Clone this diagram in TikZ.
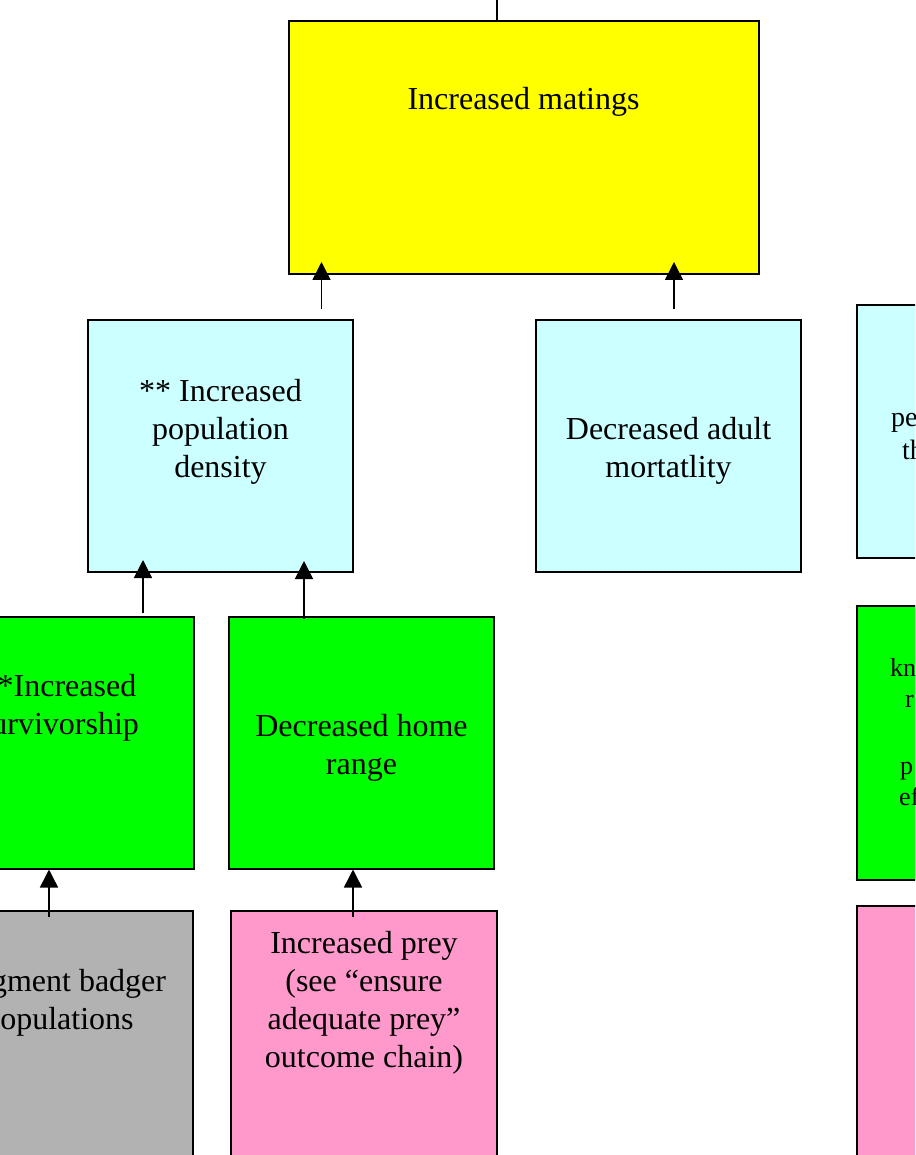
\documentclass[tikz,border=0pt]{standalone}
\usepackage{fontspec}
\setmainfont{Liberation Serif}
\usetikzlibrary{arrows.meta,calc}
\definecolor{matyellow}{HTML}{FFFF00}
\definecolor{cyanbox}{HTML}{CCFFFF}
\definecolor{greenbox}{HTML}{00FF00}
\definecolor{pinkbox}{HTML}{FF99CC}
\definecolor{graybox}{HTML}{B2B2B2}
\begin{document}
\begin{tikzpicture}[x=1pt,y=-1pt,
  box/.style={draw=black, line width=1.8pt, minimum width=265pt, minimum height=252pt,
    inner sep=0pt, outer sep=0pt, anchor=north west},
  txt/.style={font=\fontsize{32}{38}\selectfont, align=center, inner sep=0pt},
  smalltxt/.style={font=\fontsize{26}{31}\selectfont, inner sep=0pt, anchor=base west},
  midtxt/.style={font=\fontsize{28}{33}\selectfont, inner sep=0pt, anchor=base west},
  arr/.style={line width=1.5pt, -{Triangle[width=18pt,length=18pt]}},
  plainline/.style={line width=1.5pt}]
\useasboundingbox (0,0) rectangle (915,1155);
\clip (0,0) rectangle (915,1155);

% boxes
\node[box, fill=matyellow, minimum width=470pt, minimum height=253pt] (mat) at (289,21) {};
\node[box, fill=cyanbox] (dens) at (88,320) {};
\node[box, fill=cyanbox] (mort) at (536,320) {};
\node[box, fill=cyanbox, minimum height=253pt] (cyanR) at (857,305) {};
\node[box, fill=greenbox] (surv) at (-71,617) {};
\node[box, fill=greenbox] (home) at (229,617) {};
\node[box, fill=greenbox, minimum height=274pt] (greenR) at (857,606) {};
\node[box, fill=graybox, minimum height=300pt] (badg) at (-72,911) {};
\node[box, fill=pinkbox, minimum width=266pt, minimum height=300pt] (prey) at (231,911) {};
\node[box, fill=pinkbox, minimum height=300pt] (pinkR) at (857,906) {};

% texts
\node[txt, anchor=base] (matT) at (523.5,110) {Increased matings};
\node[txt] (densT) at (220.5,432) {** Increased\\population\\density};
\node[txt] (mortT) at (668.5,450.5) {Decreased adult\\mortatlity};
\node[txt] (survT) at (59,708) {**Increased\\survivorship};
\node[txt] (homeT) at (361.5,747.5) {Decreased home\\range};
\node[txt] (badgT) at (59,1003) {Augment badger\\populations};
\node[txt] (preyT) at (364,1003) {Increased prey\\(see “ensure\\adequate prey”\\outcome chain)};

\node[midtxt] (cyanRa) at (891,426) {pe};
\node[midtxt] (cyanRb) at (902,459) {th};
\node[smalltxt] (greenRa) at (890,676) {kn};
\node[smalltxt] (greenRb) at (905,707) {r};
\node[smalltxt] (greenRc) at (900,774) {p};
\node[smalltxt] (greenRd) at (899,805) {ef};

% connectors
\coordinate (topend) at ($(mat.north)+(-27,-30)$);
\draw[plainline] (topend) -- ($(mat.north)+(-27,0)$);
\draw[arr] ($(dens.north)+(101,-11)$) -- ($(mat.south)+(-202.5,-12)$);
\draw[arr] ($(mort.north)+(5.5,-11)$) -- ($(mat.south)+(150,-12)$);
\draw[arr] ($(surv.north)+(81.5,-4)$) -- ($(dens.south)+(-77.5,-12)$);
\draw[arr] ($(home.north)+(-57.5,2)$) -- ($(dens.south)+(83.5,-11)$);
\draw[arr] ($(badg.north)+(-11.5,6)$) -- ($(surv.south)+(-12.5,0.5)$);
\draw[arr] ($(prey.north)+(-11,6)$) -- ($(home.south)+(-8.5,0.5)$);
\end{tikzpicture}
\end{document}
